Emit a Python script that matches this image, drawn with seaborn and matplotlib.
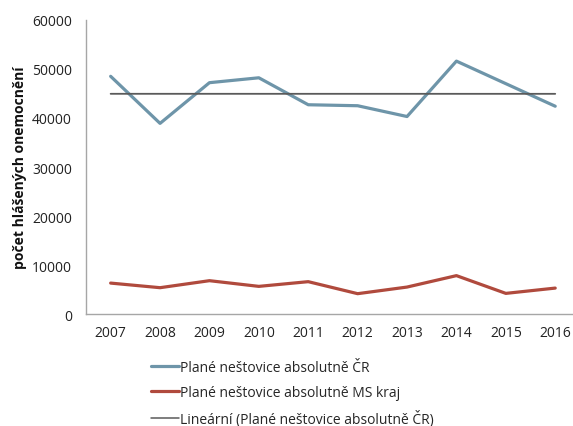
import numpy as np
import pandas as pd
import matplotlib
matplotlib.use("Agg")
import matplotlib.pyplot as plt
from matplotlib.lines import Line2D
import seaborn as sns

years = [2007, 2008, 2009, 2010, 2011, 2012, 2013, 2014, 2015, 2016]
cr_cases = [48500, 38900, 47200, 48200, 42700, 42500, 40300, 51600, 47000, 42400]
ms_cases = [6330, 5390, 6820, 5660, 6620, 4170, 5520, 7850, 4230, 5310]

label_cr = "Plané neštovice absolutně ČR"
label_ms = "Plané neštovice absolutně MS kraj"
label_trend = "Lineární (Plané neštovice absolutně ČR)"
y_label = "počet hlášených onemocnění"

sns.set_theme(style="white")
plt.rcParams["font.family"] = ["Open Sans", "DejaVu Sans"]

df = pd.DataFrame({
    "rok": years * 2,
    "pocet": cr_cases + ms_cases,
    "serie": [label_cr] * len(years) + [label_ms] * len(years),
})

fig = plt.figure(figsize=(5.73, 4.27), dpi=100)
ax = fig.add_axes([0.150, 0.262, 0.85, 0.689])

palette = {label_cr: "#6e95a9", label_ms: "#b04a3d"}
sns.lineplot(data=df, x="rok", y="pocet", hue="serie", palette=palette,
             linewidth=2.3, ax=ax, legend=False)

# linear trend of the national series
coef = np.polyfit(years, cr_cases, 1)
trend = np.polyval(coef, years)
ax.plot(years, trend, color="#5a5a5a", linewidth=1.3)

ax.set_xlim(2006.5, 2016.36)
ax.set_ylim(0, 60000)
ax.set_xticks(years)
ax.set_xticklabels([str(y) for y in years])
ax.set_yticks(range(0, 60001, 10000))
ax.tick_params(axis="both", length=0, labelsize=10, colors="#222222")
ax.tick_params(axis="x", pad=8)
ax.tick_params(axis="y", pad=10)
ax.set_xlabel("")
ax.set_ylabel(y_label, fontsize=10, fontweight="bold", color="#111111", labelpad=4)

for side in ["top", "right"]:
    ax.spines[side].set_visible(False)
for side in ["left", "bottom"]:
    ax.spines[side].set_color("#a6a6a6")
    ax.spines[side].set_linewidth(1.0)

handles = [
    Line2D([], [], color=palette[label_cr], linewidth=2.3),
    Line2D([], [], color=palette[label_ms], linewidth=2.3),
    Line2D([], [], color="#5a5a5a", linewidth=1.1),
]
fig.legend(handles, [label_cr, label_ms, label_trend],
           loc="upper left", bbox_to_anchor=(0.264, 0.155),
           frameon=False, fontsize=10, handlelength=2.0, handletextpad=0.1,
           labelspacing=0.72, borderaxespad=0, borderpad=0)

fig.savefig("out.png", dpi=100)
